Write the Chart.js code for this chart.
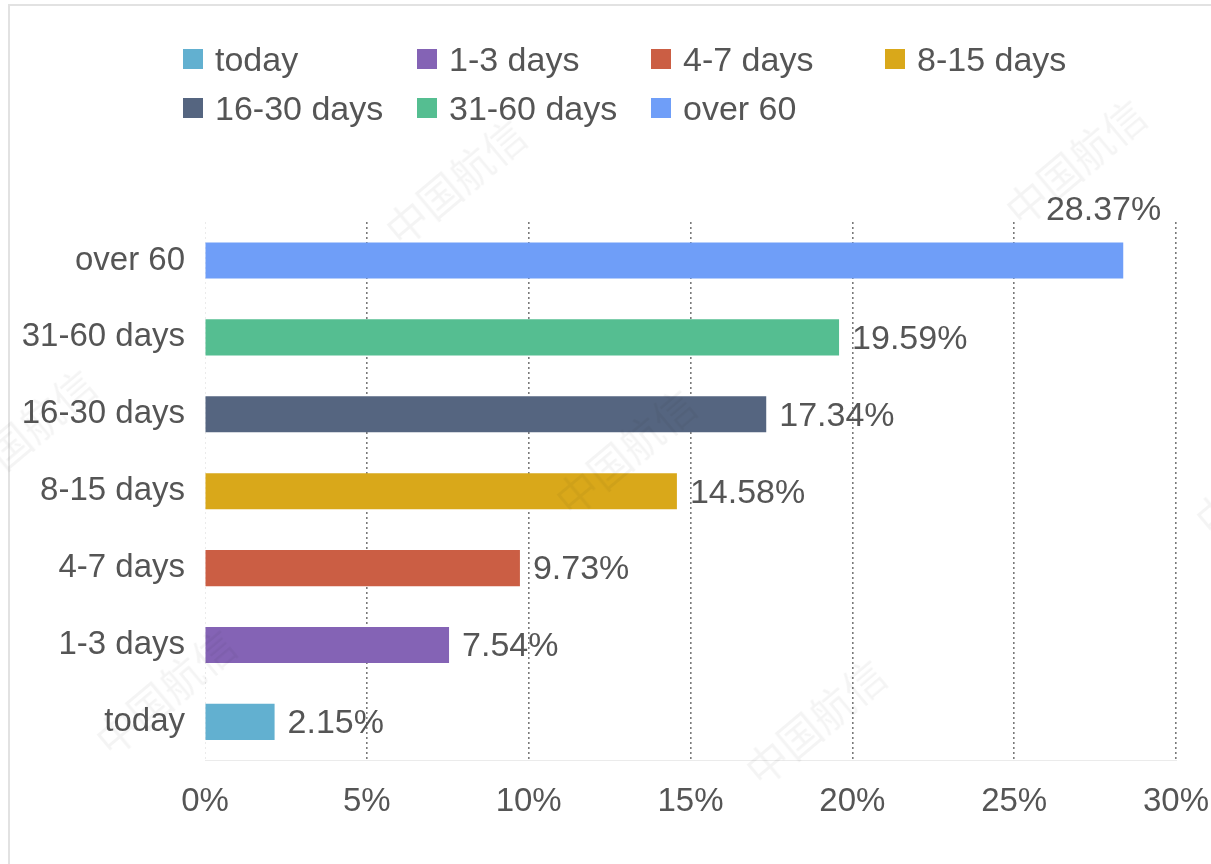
<!DOCTYPE html>
<html>
<head>
<meta charset="utf-8">
<script src="https://cdn.jsdelivr.net/npm/chart.js@4/dist/chart.umd.min.js"></script>
<style>
  html, body { margin: 0; padding: 0; background: #fff; }
  body { width: 1211px; height: 864px; position: relative; overflow: hidden; font-family: "Liberation Sans", Arial, sans-serif; }
  #frame { position: absolute; left: 8px; top: 4px; right: -2px; bottom: -2px; border-left: 2px solid #e2e2e2; border-top: 2px solid #e2e2e2; }
  #legend { position: absolute; left: 183px; top: 38px; display: grid; grid-template-columns: repeat(4, 234px); row-gap: 7px; }
  #legend .item { display: flex; align-items: center; height: 42px; font-size: 34px; color: #555; white-space: nowrap; }
  #legend .box { width: 20px; height: 20px; margin-right: 12px; flex: none; }
  #wrap { position: absolute; left: 0; top: 0; width: 1211px; height: 864px; }
  .wm { position: absolute; font-size: 42px; color: rgba(0,0,0,0.045); transform: rotate(-40deg); white-space: nowrap; font-family: "Noto Sans CJK SC", sans-serif; pointer-events: none; }
</style>
</head>
<body>
<div id="frame"></div>
<div id="wrap"><canvas id="grafico" width="1211" height="864"></canvas></div>
<div id="legend"></div>

<script>
// dados
const categorias = ["today", "1-3 days", "4-7 days", "8-15 days", "16-30 days", "31-60 days", "over 60"];
const valores = [2.15, 7.54, 9.73, 14.58, 17.34, 19.59, 28.37];
const cores = ["#62b0d0", "#8463b5", "#cb5e44", "#d9a81a", "#556580", "#55be91", "#6f9ef8"];
const ticksX = [0, 5, 10, 15, 20, 25, 30];
const marcaDagua = "中国航信";

// legenda em grade, igual ao original
const legenda = document.getElementById("legend");
categorias.forEach((c, i) => {
  const item = document.createElement("div");
  item.className = "item";
  item.innerHTML = `<span class="box" style="background:${cores[i]}"></span>${c}`;
  legenda.appendChild(item);
});

// marcas d'agua
[[370, 150], [990, 130], [-60, 400], [540, 420], [80, 660], [730, 690], [1180, 440]].forEach(([x, y]) => {
  const d = document.createElement("div");
  d.className = "wm";
  d.style.left = x + "px";
  d.style.top = y + "px";
  d.textContent = marcaDagua;
  document.body.appendChild(d);
});

const rotulosValor = {
  id: "rotulosValor",
  afterDatasetsDraw(chart) {
    const ctx = chart.ctx;
    const meta = chart.getDatasetMeta(0);
    const area = chart.chartArea;
    ctx.save();
    ctx.font = "34px 'Liberation Sans', Arial, sans-serif";
    ctx.fillStyle = "#555";
    meta.data.forEach((bar, i) => {
      const txt = valores[i].toFixed(2) + "%";
      const w = ctx.measureText(txt).width;
      if (bar.x + 13 + w > area.right) {
        // sem espaco: acima da barra
        ctx.textAlign = "right";
        ctx.textBaseline = "middle";
        ctx.fillText(txt, bar.x + 38, bar.y - bar.height / 2 - 32);
      } else {
        ctx.textAlign = "left";
        ctx.textBaseline = "middle";
        ctx.fillText(txt, bar.x + 13, bar.y + 2);
      }
    });
    ctx.restore();
  }
};

const ctx = document.getElementById("grafico").getContext("2d");
new Chart(ctx, {
  type: "bar",
  data: {
    labels: categorias,
    datasets: [{
      data: valores,
      backgroundColor: cores,
      borderWidth: 0,
      categoryPercentage: 1,
      barPercentage: 0.47
    }]
  },
  options: {
    indexAxis: "y",
    responsive: false,
    animation: false,
    layout: { padding: { top: 222, right: 35, bottom: 20, left: 0 } },
    plugins: {
      legend: { display: false },
      tooltip: { enabled: false }
    },
    scales: {
      x: {
        min: 0,
        max: 30,
        afterBuildTicks: (s) => { s.ticks = ticksX.map(v => ({ value: v })); },
        afterFit: (s) => { s.paddingLeft = 0; s.paddingRight = 0; },
        grid: {
          drawTicks: false,
          color: (c) => c.index === 0 ? "#ebebeb" : "#7a7a7a",
          lineWidth: (c) => c.index === 0 ? 1 : 1.6
        },
        border: { display: true, color: "#ebebeb", width: 1, dash: [2, 3] },
        ticks: {
          padding: 22,
          color: "#555",
          font: { family: "'Liberation Sans', Arial, sans-serif", size: 33 },
          callback: (v) => v + "%"
        }
      },
      y: {
        reverse: true,
        afterFit: (s) => { s.width = 205; },
        grid: { display: false, drawTicks: false },
        border: { display: false },
        ticks: {
          padding: 20,
          color: "#555",
          font: { family: "'Liberation Sans', Arial, sans-serif", size: 33 }
        }
      }
    }
  },
  plugins: [rotulosValor]
});
</script>
</body>
</html>
